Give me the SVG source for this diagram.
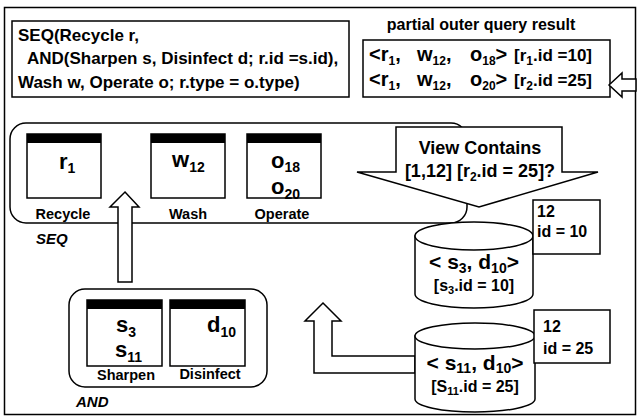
<svg xmlns="http://www.w3.org/2000/svg" width="638" height="417" viewBox="0 0 638 417">
<style>
.t{font-family:"Liberation Sans",Arial,sans-serif;font-weight:bold;fill:#000}
.i{font-style:italic}
.box{fill:#fff;stroke:#000;stroke-width:1.5}
.hdr{fill:#000}
.arr{fill:#fff;stroke:#000;stroke-width:1.5;stroke-linejoin:miter}
.m{text-anchor:middle}
</style>
<rect width="638" height="417" fill="#fff"/>
<g id="frame"><rect x="4.5" y="7.5" width="631" height="407" fill="none" stroke="#000" stroke-width="1.5"/></g>

<g id="query">
<rect class="box" x="12" y="21" width="337" height="76"/>
<text class="t" font-size="17" x="18" y="41">SEQ(Recycle r,</text>
<text class="t" font-size="17" x="27" y="64">AND(Sharpen s, Disinfect d; r.id =s.id),</text>
<text class="t" font-size="17" x="18" y="88">Wash w, Operate o; r.type = o.type)</text>
</g>

<g id="partial-result">
<text class="t m" font-size="16" x="481" y="30">partial outer query result</text>
<rect class="box" x="363" y="40" width="247" height="57"/>
<text class="t" font-size="20" y="61"><tspan x="369">&lt;r</tspan><tspan font-size="12" dy="4">1</tspan><tspan dy="-4">,</tspan><tspan x="417">w</tspan><tspan font-size="12" dy="4">12</tspan><tspan dy="-4">,</tspan><tspan x="470">o</tspan><tspan font-size="12" dy="4">18</tspan><tspan dy="-4">&gt;</tspan><tspan x="514" font-size="17">[r</tspan><tspan font-size="12" dy="4">1</tspan><tspan dy="-4" font-size="17">.id =10]</tspan></text>
<text class="t" font-size="20" y="86"><tspan x="369">&lt;r</tspan><tspan font-size="12" dy="4">1</tspan><tspan dy="-4">,</tspan><tspan x="417">w</tspan><tspan font-size="12" dy="4">12</tspan><tspan dy="-4">,</tspan><tspan x="470">o</tspan><tspan font-size="12" dy="4">20</tspan><tspan dy="-4">&gt;</tspan><tspan x="514" font-size="17">[r</tspan><tspan font-size="12" dy="4">2</tspan><tspan dy="-4" font-size="17">.id =25]</tspan></text>
</g>

<g id="seq">
<rect class="box" x="10" y="123" width="457" height="100" rx="16"/>
<g id="recycle">
<rect class="box" x="27" y="134" width="74" height="64"/>
<rect class="hdr" x="27" y="134" width="74" height="9"/>
<text class="t" font-size="22" x="59" y="169">r<tspan font-size="14" dy="4">1</tspan></text>
<text class="t m" font-size="14.5" x="63" y="219">Recycle</text>
</g>
<g id="wash">
<rect class="box" x="151" y="134" width="74" height="64"/>
<rect class="hdr" x="151" y="134" width="74" height="9"/>
<text class="t" font-size="22" x="172" y="167">w<tspan font-size="14" dy="5">12</tspan></text>
<text class="t m" font-size="14.5" x="188" y="219">Wash</text>
</g>
<g id="operate">
<rect class="box" x="247" y="134" width="74" height="64"/>
<rect class="hdr" x="247" y="134" width="74" height="9"/>
<text class="t" font-size="22" x="271" y="168">o<tspan font-size="14" dy="4">18</tspan></text>
<text class="t" font-size="22" x="271" y="194">o<tspan font-size="14" dy="5">20</tspan></text>
<text class="t m" font-size="14.5" x="282" y="219">Operate</text>
</g>
<text class="t i" font-size="15" x="36" y="244">SEQ</text>
</g>

<g id="and">
<rect class="box" x="69" y="289" width="198" height="98" rx="16"/>
<g id="sharpen">
<rect class="box" x="87" y="300" width="75" height="66"/>
<rect class="hdr" x="87" y="300" width="75" height="9"/>
<text class="t" font-size="22" x="116" y="332">s<tspan font-size="14" dy="5">3</tspan></text>
<text class="t" font-size="22" x="115" y="357">s<tspan font-size="14" dy="5">11</tspan></text>
<text class="t m" font-size="14.5" x="126" y="380">Sharpen</text>
</g>
<g id="disinfect">
<rect class="box" x="170" y="300" width="75" height="66"/>
<rect class="hdr" x="170" y="300" width="75" height="9"/>
<text class="t" font-size="22" x="207" y="332">d<tspan font-size="14" dy="5">10</tspan></text>
<text class="t m" font-size="14.5" x="210" y="379">Disinfect</text>
</g>
<text class="t i" font-size="15" x="76" y="407">AND</text>
</g>

<g id="view-contains">
<polygon class="arr" points="396,127 562,127 562,172 598,172 479,207 357,172 396,172"/>
<text class="t m" font-size="18" x="480" y="154">View Contains</text>
<text class="t m" font-size="18" x="480" y="177">[1,12] [r<tspan font-size="12" dy="4">2</tspan><tspan dy="-4">.id = 25]?</tspan></text>
</g>

<g id="connectors">
<polygon class="arr" points="609,85 622,73 622,79 636,79 636,91 622,91 622,97"/>
<polygon class="arr" points="125,192 139,207 132,207 132,282 118,282 118,207 110,207"/>
<polygon class="arr" points="323,303 341,321 332,321 332,356 415,356 415,373 314,373 314,321 305,321"/>
</g>

<g id="view1">
<path class="box" d="M415,236 L415,294 A59,14 0 0 0 533,294 L533,236 Z"/>
<ellipse class="box" cx="474" cy="236" rx="59" ry="14"/>
<text class="t m" font-size="21" x="474" y="269">&lt; s<tspan font-size="14" dy="4">3</tspan><tspan dy="-4">,  d</tspan><tspan font-size="14" dy="4">10</tspan><tspan dy="-4">&gt;</tspan></text>
<text class="t m" font-size="16" x="474" y="291">[s<tspan font-size="11" dy="3">3</tspan><tspan dy="-3">.id = 10]</tspan></text>
</g>
<g id="view1-label">
<rect class="box" x="533" y="200" width="67" height="54"/>
<text class="t" font-size="16" x="537" y="217">12</text>
<text class="t" font-size="16" x="537" y="237">id = 10</text>
</g>

<g id="view2">
<path class="box" d="M415,336 L415,399 A60,13 0 0 0 535,399 L535,336 Z"/>
<ellipse class="box" cx="475" cy="336" rx="60" ry="13"/>
<text class="t m" font-size="21" x="475" y="370">&lt; s<tspan font-size="14" dy="3">11</tspan><tspan dy="-3">, d</tspan><tspan font-size="14" dy="3">10</tspan><tspan dy="-3">&gt;</tspan></text>
<text class="t m" font-size="16" x="475" y="392">[S<tspan font-size="11" dy="3">11</tspan><tspan dy="-3">.id = 25]</tspan></text>
</g>
<g id="view2-label">
<rect class="box" x="534" y="310" width="76" height="53"/>
<text class="t" font-size="16" x="543" y="332">12</text>
<text class="t" font-size="16" x="543" y="354">id = 25</text>
</g>
</svg>
